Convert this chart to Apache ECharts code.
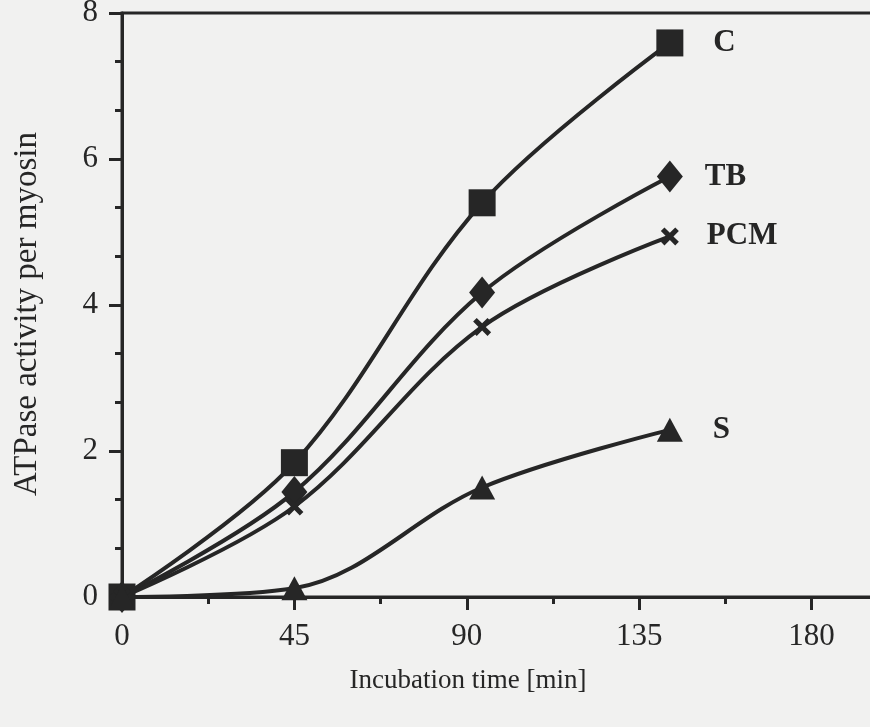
<!DOCTYPE html>
<html>
<head>
<meta charset="utf-8">
<title>ATPase activity per myosin</title>
<script src="https://cdn.jsdelivr.net/npm/echarts@6/dist/echarts.min.js"></script>
<style>
  html, body { margin: 0; padding: 0; background: #f1f1f0; }
  #chart { width: 870px; height: 727px; }
</style>
</head>
<body>
<div id="chart"></div>
<script>
  // values
  const xTicks = [0, 45, 90, 135, 180];
  const yTicks = [0, 2, 4, 6, 8];
  const times = [0, 45, 94, 143];
  const seriesC = [0, 1.84, 5.40, 7.59];
  const seriesTB = [0, 1.44, 4.17, 5.76];
  const seriesPCM = [0, 1.24, 3.70, 4.94];
  const seriesS = [0, 0.12, 1.50, 2.29];

  const INK = "#262626";
  const SERIF = "'Liberation Serif', 'DejaVu Serif', serif";
  const CROSS = "path://M0,2L2,0L5,3L8,0L10,2L7,5L10,8L8,10L5,7L2,10L0,8L3,5Z";

  function pairs(values) {
    return values.map((v, i) => [times[i], v]);
  }

  function makeSeries(name, values, symbol, size, labelGap) {
    const data = pairs(values);
    const last = data.length - 1;
    return {
      name,
      type: "line",
      data: data.map((d, i) => i === last ? {
        value: d,
        label: {
          show: true,
          position: "right",
          distance: labelGap,
          formatter: name,
          color: INK,
          fontFamily: SERIF,
          fontWeight: "bold",
          fontSize: 31
        }
      } : d),
      smooth: 0.35,
      symbol,
      symbolSize: size,
      showAllSymbol: true,
      lineStyle: { color: INK, width: 4 },
      itemStyle: { color: INK, borderWidth: 0 },
      z: 3
    };
  }

  const chart = echarts.init(document.getElementById("chart"), null, { renderer: "canvas" });
  chart.setOption({
    backgroundColor: "#f1f1f0",
    animation: false,
    grid: {
      left: 122, top: 13, bottom: 130, right: -114,
      outerBoundsMode: "none",
      containLabel: false,
      show: true, borderColor: INK, borderWidth: 3, backgroundColor: "transparent"
    },
    xAxis: {
      type: "value",
      min: xTicks[0],
      max: 225,
      interval: 45,
      name: "Incubation time [min]",
      nameLocation: "middle",
      nameGap: 70,
      nameTextStyle: { color: INK, fontFamily: SERIF, fontSize: 27, padding: [0, 170, 0, 0] },
      axisLine: { show: true, onZero: false, lineStyle: { color: INK, width: 3 } },
      axisTick: { show: true, inside: false, length: 13, lineStyle: { color: INK, width: 3 } },
      minorTick: { show: true, splitNumber: 2, length: 7, lineStyle: { color: INK, width: 3 } },
      axisLabel: {
        color: INK, fontFamily: SERIF, fontSize: 31, margin: 24,
        formatter: (v) => xTicks.includes(v) ? String(v) : ""
      },
      splitLine: { show: false }
    },
    yAxis: {
      type: "value",
      min: yTicks[0],
      max: yTicks[yTicks.length - 1],
      interval: 2,
      name: "ATPase activity per myosin",
      nameLocation: "middle",
      nameGap: 78,
      nameTextStyle: { color: INK, fontFamily: SERIF, fontSize: 33, padding: [0, 18, 0, 0] },
      axisLine: { show: true, lineStyle: { color: INK, width: 3 } },
      axisTick: { show: true, inside: false, length: 13, lineStyle: { color: INK, width: 3 } },
      minorTick: { show: true, splitNumber: 3, length: 7, lineStyle: { color: INK, width: 3 } },
      axisLabel: { color: INK, fontFamily: SERIF, fontSize: 31, margin: 24 },
      splitLine: { show: false }
    },
    series: [
      makeSeries("C", seriesC, "rect", 27, 30),
      makeSeries("TB", seriesTB, "diamond", [26, 32], 22),
      makeSeries("PCM", seriesPCM, CROSS, 18, 28),
      makeSeries("S", seriesS, "triangle", [26, 24], 30)
    ]
  });

  window.addEventListener("resize", () => chart.resize());
</script>
</body>
</html>
